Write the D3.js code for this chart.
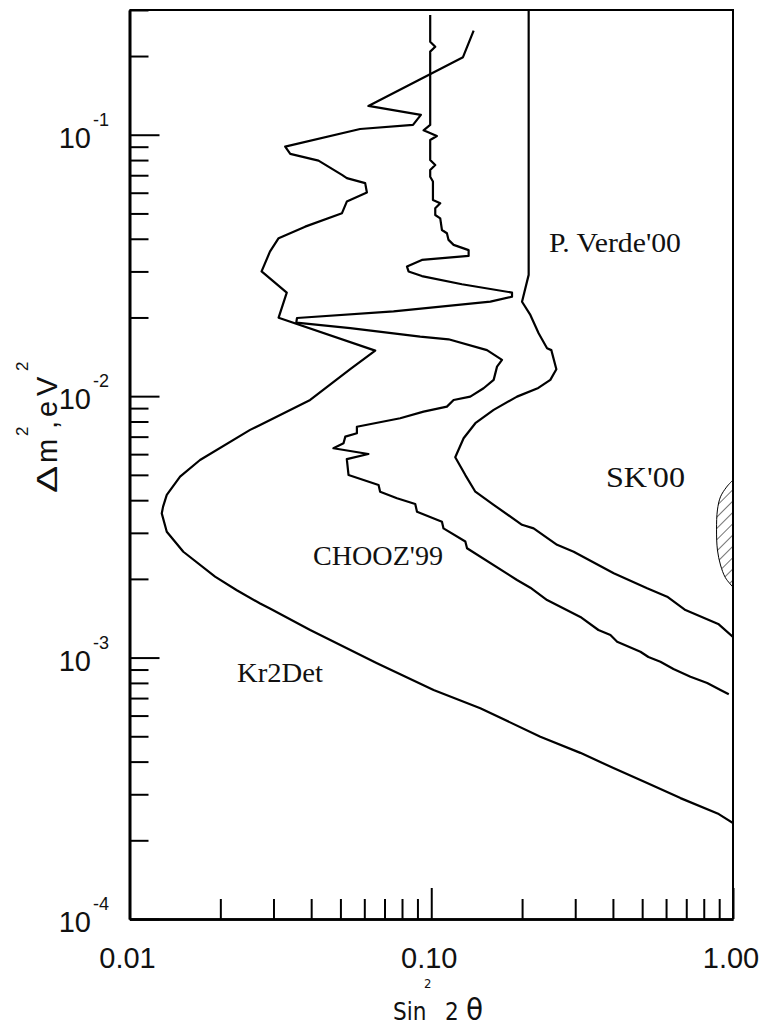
<!DOCTYPE html>
<html>
<head>
<meta charset="utf-8">
<script src="https://cdn.jsdelivr.net/npm/d3@7"></script>
<style>
  body { margin: 0; background: #fff; }
  .lbl { font-family: "Liberation Sans", Arial, sans-serif; fill: #111; }
  .xtitle { font-family: "DejaVu Sans Condensed", "DejaVu Sans", Verdana, sans-serif; fill: #111; }
  .curvelabel { font-family: "Liberation Serif", "Times New Roman", serif; fill: #111; }
</style>
</head>
<body>
<div id="chart"></div>
<script>
// exclusion contours: [sin^2 2theta, dm^2 (eV^2)]
const kr2detCurve = [
  [0.1382, 0.2502], [0.1274, 0.1980], [0.0619, 0.1289], [0.0924, 0.1191], [0.0870, 0.1090],
  [0.0581, 0.1052], [0.0328, 0.0901], [0.0341, 0.0845], [0.0423, 0.0796], [0.0506, 0.0702],
  [0.0525, 0.0682], [0.0604, 0.0653], [0.0612, 0.0601], [0.0525, 0.0555], [0.0506, 0.0501],
  [0.0382, 0.0445], [0.0312, 0.0402], [0.0292, 0.0357], [0.0274, 0.0300], [0.0332, 0.0249],
  [0.0312, 0.01996], [0.0652, 0.01493], [0.0539, 0.01268], [0.0397, 0.00967], [0.0271, 0.00776],
  [0.0251, 0.00743], [0.01713, 0.00570], [0.01471, 0.00492], [0.01329, 0.00419], [0.01292, 0.00378],
  [0.01279, 0.00356], [0.01329, 0.00303], [0.01508, 0.00254], [0.01921, 0.00204], [0.02268, 0.00181],
  [0.0271, 0.00161], [0.0292, 0.00154], [0.0397, 0.001275], [0.0661, 0.000951], [0.1018, 0.000752],
  [0.1454, 0.000640], [0.2299, 0.000498], [0.3120, 0.000432], [0.4015, 0.000378], [0.5193, 0.000331],
  [0.6697, 0.000290], [0.8972, 0.000252], [1.0, 0.000233]
];

const choozCurve = [
  [0.0992, 0.287], [0.0992, 0.227], [0.1031, 0.217], [0.0992, 0.208], [0.0992, 0.109],
  [0.0943, 0.104], [0.1044, 0.0989], [0.0992, 0.0955], [0.0992, 0.0801], [0.1031, 0.0766],
  [0.0992, 0.0733], [0.0992, 0.0691], [0.1013, 0.0662], [0.1013, 0.0563], [0.1071, 0.0547],
  [0.1031, 0.0523], [0.1031, 0.0493], [0.1071, 0.0479], [0.1085, 0.0432], [0.1127, 0.0420],
  [0.1141, 0.0396], [0.1186, 0.0379], [0.1330, 0.0362], [0.1330, 0.0344], [0.0931, 0.0332],
  [0.0831, 0.0313], [0.0841, 0.0300], [0.0931, 0.0288], [0.1264, 0.0268], [0.1852, 0.0249],
  [0.1852, 0.0240], [0.1570, 0.0230], [0.0750, 0.0211], [0.0359, 0.0199], [0.0357, 0.0191],
  [0.0539, 0.0182], [0.0919, 0.0169], [0.1141, 0.0165], [0.1530, 0.0150], [0.1716, 0.01376],
  [0.1652, 0.01297], [0.1610, 0.01154], [0.1491, 0.01072], [0.1347, 0.00996], [0.1186, 0.00967],
  [0.1127, 0.00912], [0.0943, 0.00873], [0.0789, 0.00823], [0.0567, 0.00764], [0.0567, 0.00721],
  [0.0519, 0.00700], [0.0512, 0.00660], [0.0474, 0.00632], [0.0619, 0.00601], [0.0525, 0.00574],
  [0.0532, 0.00499], [0.0669, 0.00457], [0.0677, 0.00431], [0.0770, 0.00407], [0.0885, 0.00387],
  [0.0897, 0.00361], [0.1085, 0.00331], [0.1098, 0.00312], [0.1297, 0.00278], [0.1314, 0.00262],
  [0.1924, 0.00198], [0.2130, 0.00185], [0.2420, 0.00166], [0.3120, 0.00143], [0.3581, 0.001275],
  [0.3925, 0.00122], [0.4131, 0.00115], [0.4934, 0.001053], [0.5244, 0.001005], [0.5747, 0.000964],
  [0.6348, 0.000904], [0.7228, 0.000845], [0.8212, 0.000799], [0.9089, 0.000752], [0.9684, 0.000724]
];

const pVerdeCurve = [
  [0.2103, 0.3], [0.2103, 0.0291], [0.1999, 0.02297], [0.2130, 0.02045], [0.2269, 0.01740],
  [0.2420, 0.01525], [0.2500, 0.0150], [0.2598, 0.01268], [0.2481, 0.01154], [0.2264, 0.01075],
  [0.1924, 0.00996], [0.1610, 0.00886], [0.1400, 0.00788], [0.1280, 0.00690], [0.1201, 0.00584],
  [0.1297, 0.00499], [0.1400, 0.00431], [0.1610, 0.00384], [0.1999, 0.00322], [0.2184, 0.00312],
  [0.2612, 0.00270], [0.2965, 0.00254], [0.4025, 0.00210], [0.5193, 0.00184], [0.6050, 0.00171],
  [0.6957, 0.00152], [0.8972, 0.00134], [1.0, 0.00120]
];

// SK'00 allowed region (hatched)
const skRegion = [
  [1.0, 0.00478], [0.952, 0.00449], [0.909, 0.00412], [0.888, 0.00367], [0.882, 0.00308],
  [0.888, 0.00258], [0.909, 0.00226], [0.944, 0.00202], [1.0, 0.00186]
];

const xLabelValues = [0.01, 0.1, 1];
const xTickLabels = ['0.01', '0.10', '1.00'];
const yDecades = [1e-4, 1e-3, 1e-2, 1e-1];
const yExponents = ['-4', '-3', '-2', '-1'];
const curveNames = ['Kr2Det', "CHOOZ'99", "P. Verde'00", "SK'00"];

// label placement (pixels)
const labelLayout = [
  {x: 237, y: 682, w: 86, size: 28},
  {x: 313, y: 565, w: 130, size: 28},
  {x: 549, y: 252, w: 132, size: 27},
  {x: 606, y: 487, w: 79, size: 30}
];

const svgWidth = 768, svgHeight = 1030;
const plot = {left: 129.5, right: 733, top: 10, bottom: 919};

const svg = d3.select('#chart').append('svg')
  .attr('width', svgWidth).attr('height', svgHeight)
  .style('background', '#fff');

const x = d3.scaleLog().domain([0.01, 1]).range([plot.left, plot.right]);
const y = d3.scaleLog().domain([1e-4, 0.3]).range([plot.bottom, plot.top]);

const isMajor = v => Math.abs(Math.log10(v) - Math.round(Math.log10(v))) < 1e-6;

const defs = svg.append('defs');
defs.append('clipPath').attr('id', 'plotclip')
  .append('rect').attr('x', plot.left).attr('y', plot.top)
  .attr('width', plot.right - plot.left).attr('height', plot.bottom - plot.top);
defs.append('pattern').attr('id', 'hatch')
  .attr('patternUnits', 'userSpaceOnUse').attr('width', 8).attr('height', 8)
  .attr('patternTransform', 'rotate(45)')
  .append('line').attr('x1', 0).attr('y1', 0).attr('x2', 0).attr('y2', 8)
  .attr('stroke', '#000').attr('stroke-width', 1.1);

// hatched SK region
const skLine = d3.line().x(d => x(d[0])).y(d => y(d[1])).curve(d3.curveCatmullRom);
svg.append('path')
  .attr('clip-path', 'url(#plotclip)')
  .attr('d', skLine(skRegion) + 'Z')
  .attr('fill', 'url(#hatch)')
  .attr('stroke', '#000').attr('stroke-width', 1);

// contours
const line = d3.line().x(d => x(d[0])).y(d => y(d[1]));
svg.append('g').attr('clip-path', 'url(#plotclip)')
  .selectAll('path').data([kr2detCurve, choozCurve, pVerdeCurve]).enter()
  .append('path')
  .attr('d', line)
  .attr('fill', 'none')
  .attr('stroke', '#000')
  .attr('stroke-width', 2.2)
  .attr('stroke-linejoin', 'round');

// axes
function styleAxis(g) {
  g.selectAll('.domain').attr('stroke', '#000').attr('stroke-width', 2.6);
  g.selectAll('.tick line').attr('stroke', '#000').attr('stroke-width', 2);
}
svg.append('g').attr('transform', `translate(0,${plot.bottom})`)
  .call(d3.axisBottom(x).tickValues(x.ticks().filter(v => !isMajor(v)))
    .tickSize(-20).tickSizeOuter(0).tickFormat(''))
  .call(styleAxis);
svg.append('g').attr('transform', `translate(0,${plot.bottom})`)
  .call(d3.axisBottom(x).tickValues(xLabelValues).tickSize(-31).tickSizeOuter(0).tickFormat(''))
  .call(styleAxis);
svg.append('g').attr('transform', `translate(${plot.left},0)`)
  .call(d3.axisLeft(y).tickValues(y.ticks().filter(v => !isMajor(v)))
    .tickSize(-19).tickSizeOuter(0).tickFormat(''))
  .call(styleAxis);
svg.append('g').attr('transform', `translate(${plot.left},0)`)
  .call(d3.axisLeft(y).tickValues(yDecades).tickSize(-30).tickSizeOuter(0).tickFormat(''))
  .call(styleAxis);

// frame top and right
svg.append('path')
  .attr('d', `M${plot.left},${plot.top}H${plot.right}V${plot.bottom}`)
  .attr('fill', 'none').attr('stroke', '#000').attr('stroke-width', 2);

// x tick labels
svg.selectAll('.xlab').data(xLabelValues).enter().append('text')
  .attr('class', 'lbl')
  .attr('x', d => x(d) - 2)
  .attr('y', 968)
  .attr('text-anchor', 'middle')
  .attr('font-size', 29)
  .text((d, i) => xTickLabels[i]);

// y tick labels 10^n
const ylab = svg.selectAll('.ylab').data(yDecades).enter().append('text')
  .attr('class', 'lbl')
  .attr('x', 109)
  .attr('y', d => y(d) + 13)
  .attr('text-anchor', 'end')
  .attr('font-size', 29);
ylab.append('tspan').text('10');
ylab.append('tspan').attr('dy', -22).attr('dx', 2).attr('font-size', 18).text((d, i) => yExponents[i]);

// x axis title: Sin^2 2θ
svg.append('text').attr('class', 'xtitle').attr('x', 393).attr('y', 1020)
  .attr('font-size', 24).text('Sin');
svg.append('text').attr('class', 'xtitle').attr('x', 424).attr('y', 988)
  .attr('font-size', 13).text('2');
svg.append('text').attr('class', 'xtitle').attr('x', 445).attr('y', 1020)
  .attr('font-size', 24).text('2');
svg.append('text').attr('class', 'xtitle').attr('x', 466).attr('y', 1020)
  .attr('font-size', 31).text('\u03B8');

// y axis title (rotated)
const yt = svg.append('g').attr('transform', 'translate(57,493) rotate(-90)');
yt.append('text').attr('class', 'lbl').attr('font-size', 29)
  .attr('transform', 'scale(1.4,1)').text('\u0394');
const ytt = yt.append('text').attr('class', 'lbl').attr('font-size', 29);
ytt.append('tspan').attr('x', 30).attr('y', 0).text('m');
ytt.append('tspan').attr('x', 57).attr('y', -29).attr('font-size', 17).text('2');
ytt.append('tspan').attr('x', 64).attr('y', 0).text(',');
ytt.append('tspan').attr('x', 76).attr('y', 0).text('e');
ytt.append('tspan').attr('x', 97).attr('y', 0).text('V');
ytt.append('tspan').attr('x', 122).attr('y', -29).attr('font-size', 17).text('2');

// curve labels
svg.selectAll('.curvelabel').data(curveNames).enter().append('text')
  .attr('class', 'curvelabel')
  .attr('x', (d, i) => labelLayout[i].x)
  .attr('y', (d, i) => labelLayout[i].y)
  .attr('font-size', (d, i) => labelLayout[i].size)
  .attr('textLength', (d, i) => labelLayout[i].w)
  .attr('lengthAdjust', 'spacingAndGlyphs')
  .text(d => d);
</script>
</body>
</html>
